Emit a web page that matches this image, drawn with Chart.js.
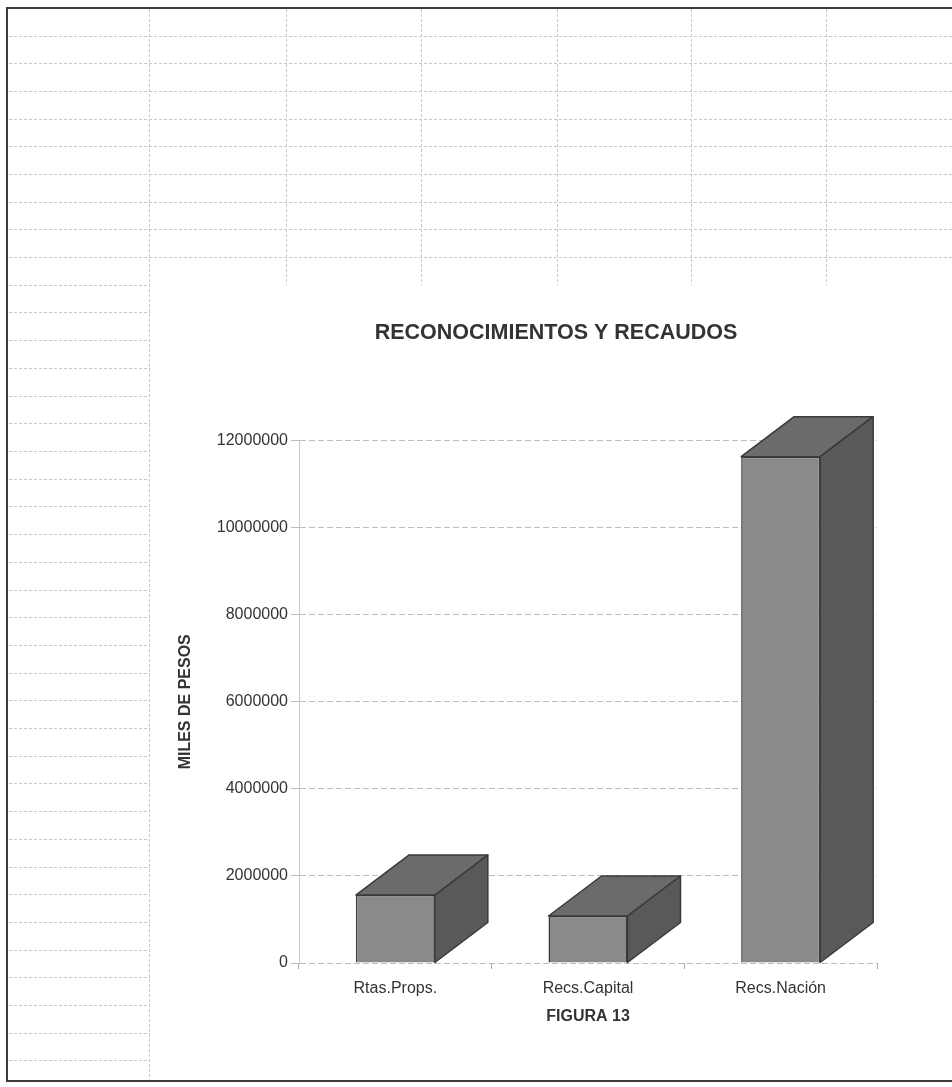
<!DOCTYPE html>
<html>
<head>
<meta charset="utf-8">
<script src="https://cdn.jsdelivr.net/npm/chart.js@4.4.1/dist/chart.umd.min.js"></script>
<style>
    html, body { margin: 0; padding: 0; background: #fff; }
    #hoja { position: absolute; left: 0; top: 0; }
    #marco { position: absolute; left: 150px; top: 285px; width: 802px; height: 793px; background: #fff; }
</style>
</head>
<body>
<canvas id="hoja" width="952" height="1087"></canvas>
<div id="marco"><canvas id="grafico"></canvas></div>
<script>
// Datos de la figura
const categorias = ['Rtas.Props.', 'Recs.Capital', 'Recs.Nación'];
const valores = [1560000, 1080000, 11630000];
const ejeMin = 0;
const ejeMax = 12000000;
const paso = 2000000;

// Fondo de hoja de cálculo (solo decoración)
const hoja = document.getElementById('hoja').getContext('2d');
hoja.strokeStyle = '#c8c8c8';
hoja.lineWidth = 1;
hoja.setLineDash([3, 2]);
for (let y = 35.5; y < 1078; y += 27.7) {
    hoja.beginPath();
    hoja.moveTo(9, Math.round(y) + 0.5);
    hoja.lineTo(y < 286 ? 952 : 150, Math.round(y) + 0.5);
    hoja.stroke();
}
[149, 286, 421, 557, 691, 826].forEach(x => {
    hoja.beginPath();
    hoja.moveTo(x + 0.5, 9);
    hoja.lineTo(x + 0.5, x === 149 ? 1080 : 285);
    hoja.stroke();
});
hoja.setLineDash([]);
hoja.strokeStyle = '#3a3a3a';
hoja.lineWidth = 2;
hoja.beginPath();
hoja.moveTo(952, 8); hoja.lineTo(7, 8); hoja.lineTo(7, 1081); hoja.lineTo(952, 1081);
hoja.stroke();

// Caras superior y lateral de las columnas
const cubo3d = {
    id: 'cubo3d',
    afterDatasetsDraw(chart) {
        const ctx = chart.ctx;
        const dx = 53, dy = -40;
        chart.getDatasetMeta(0).data.forEach(bar => {
            const { x, y, base, width } = bar.getProps(['x', 'y', 'base', 'width'], true);
            const l = x - width / 2, r = x + width / 2;
            ctx.save();
            ctx.strokeStyle = '#3a3a3a';
            ctx.lineWidth = 1.5;
            ctx.lineJoin = 'round';
            // tapa
            ctx.beginPath();
            ctx.moveTo(l, y); ctx.lineTo(l + dx, y + dy); ctx.lineTo(r + dx, y + dy); ctx.lineTo(r, y);
            ctx.closePath();
            ctx.fillStyle = '#6b6b6b';
            ctx.fill(); ctx.stroke();
            // lado
            ctx.beginPath();
            ctx.moveTo(r, y); ctx.lineTo(r + dx, y + dy); ctx.lineTo(r + dx, base + dy); ctx.lineTo(r, base);
            ctx.closePath();
            ctx.fillStyle = '#595959';
            ctx.fill(); ctx.stroke();
            ctx.restore();
        });
    }
};

Chart.defaults.font.family = '"Liberation Sans", Arial, sans-serif';
Chart.defaults.color = '#333';

// ancho de la etiqueta más larga, para colocar las etiquetas del eje Y
const medidor = document.createElement('canvas').getContext('2d');
medidor.font = '16px "Liberation Sans", Arial, sans-serif';
const anchoEtiqueta = medidor.measureText(String(ejeMax)).width;

new Chart(document.getElementById('grafico').getContext('2d'), {
    type: 'bar',
    data: {
        labels: categorias,
        datasets: [{
            data: valores,
            backgroundColor: '#8a8a8a',
            borderColor: '#3a3a3a',
            borderWidth: 1.5,
            barPercentage: 0.41,
            categoryPercentage: 1
        }]
    },
    options: {
        responsive: true,
        maintainAspectRatio: false,
        animation: false,
        // el margen izquierdo centra el título como en la figura original
        layout: { padding: { left: 85, right: 75, top: 0, bottom: 51.4 } },
        plugins: {
            legend: { display: false },
            tooltip: { enabled: false },
            title: {
                display: true,
                text: 'RECONOCIMIENTOS Y RECAUDOS',
                font: { size: 21.5, weight: 'bold' },
                color: '#333',
                padding: { top: 35.4, bottom: 94.4 }
            }
        },
        scales: {
            x: {
                grid: { display: true, drawOnChartArea: false, tickLength: 6, color: '#aaa' },
                border: { display: false },
                ticks: { font: { size: 16 }, color: '#333', padding: 10 },
                title: {
                    display: true,
                    text: 'FIGURA 13',
                    font: { size: 16, weight: 'bold' },
                    color: '#333',
                    padding: { top: 0, bottom: 0 }
                },
                afterFit(scale) { scale.height = 63.6; }
            },
            y: {
                min: ejeMin,
                max: ejeMax,
                grid: { color: '#bdbdbd', tickLength: 8 },
                border: { display: true, color: '#c8c8c8', dash: [6, 3] },
                ticks: {
                    stepSize: paso,
                    font: { size: 16 },
                    color: '#333',
                    mirror: true,
                    crossAlign: 'far',
                    padding: -(11 + anchoEtiqueta),
                    callback: v => String(v)
                },
                title: {
                    display: true,
                    text: 'MILES DE PESOS',
                    font: { size: 16, weight: 'bold' },
                    color: '#333',
                    padding: { top: -58.6, bottom: 0 }
                },
                afterFit(scale) { scale.width = 64; }
            }
        }
    },
    plugins: [cubo3d]
});
</script>
</body>
</html>
